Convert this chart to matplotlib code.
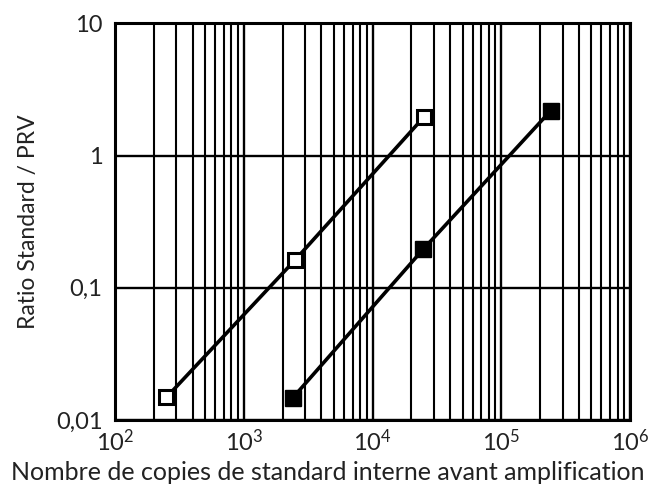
import matplotlib
matplotlib.use("Agg")
import matplotlib.pyplot as plt
from matplotlib.ticker import LogLocator, FixedLocator, NullFormatter

# values
open_x = [250, 2500, 25000]
open_y = [0.0148, 0.162, 1.95]
filled_x = [2400, 24800, 243000]
filled_y = [0.0147, 0.196, 2.19]

x_ticks = [1e2, 1e3, 1e4, 1e5, 1e6]
x_labels = [r"$10^{2}$", r"$10^{3}$", r"$10^{4}$", r"$10^{5}$", r"$10^{6}$"]
y_ticks = [0.01, 0.1, 1, 10]
y_labels = ["0,01", "0,1", "1", "10"]

plt.rcParams["font.family"] = ["Lato", "DejaVu Sans"]
plt.rcParams["mathtext.default"] = "regular"
plt.rcParams["mathtext.fontset"] = "custom"
plt.rcParams["mathtext.rm"] = "Lato"

fig = plt.figure(figsize=(6.56, 4.96), dpi=100)
ax = fig.add_axes([0.1753, 0.1532, 0.7851, 0.7998])

ax.set_xscale("log")
ax.set_yscale("log")
ax.set_xlim(1e2, 1e6)
ax.set_ylim(0.01, 10)

ax.plot(open_x, open_y, color="black", linewidth=2.6, marker="s",
        markersize=10, markerfacecolor="white", markeredgecolor="black",
        markeredgewidth=2.2, zorder=5)
ax.plot(filled_x, filled_y, color="black", linewidth=2.6, marker="s",
        markersize=11, markerfacecolor="black", markeredgecolor="black",
        zorder=5)

ax.xaxis.set_major_locator(FixedLocator(x_ticks))
ax.xaxis.set_minor_locator(LogLocator(base=10, subs=range(2, 10), numticks=20))
ax.xaxis.set_minor_formatter(NullFormatter())
ax.set_xticklabels(x_labels)
ax.yaxis.set_major_locator(FixedLocator(y_ticks))
ax.yaxis.set_minor_locator(FixedLocator([]))
ax.set_yticklabels(y_labels)

ax.grid(True, which="major", axis="both", color="black", linewidth=1.7)
ax.grid(True, which="minor", axis="x", color="black", linewidth=1.5)
ax.tick_params(which="both", length=0, labelsize=17, colors="#222222")
ax.tick_params(axis="x", pad=6)
ax.tick_params(axis="y", pad=9)

for s in ax.spines.values():
    s.set_linewidth(2.2)
    s.set_color("black")

# x label is centred on the figure, not on the axes
fig.text(0.5, 0.048, "Nombre de copies de standard interne avant amplification",
         fontsize=18, color="#222222", ha="center", va="center")
ax.set_ylabel("Ratio Standard / PRV", fontsize=16.5, color="#222222", labelpad=12)

fig.savefig("out.png", dpi=100)
